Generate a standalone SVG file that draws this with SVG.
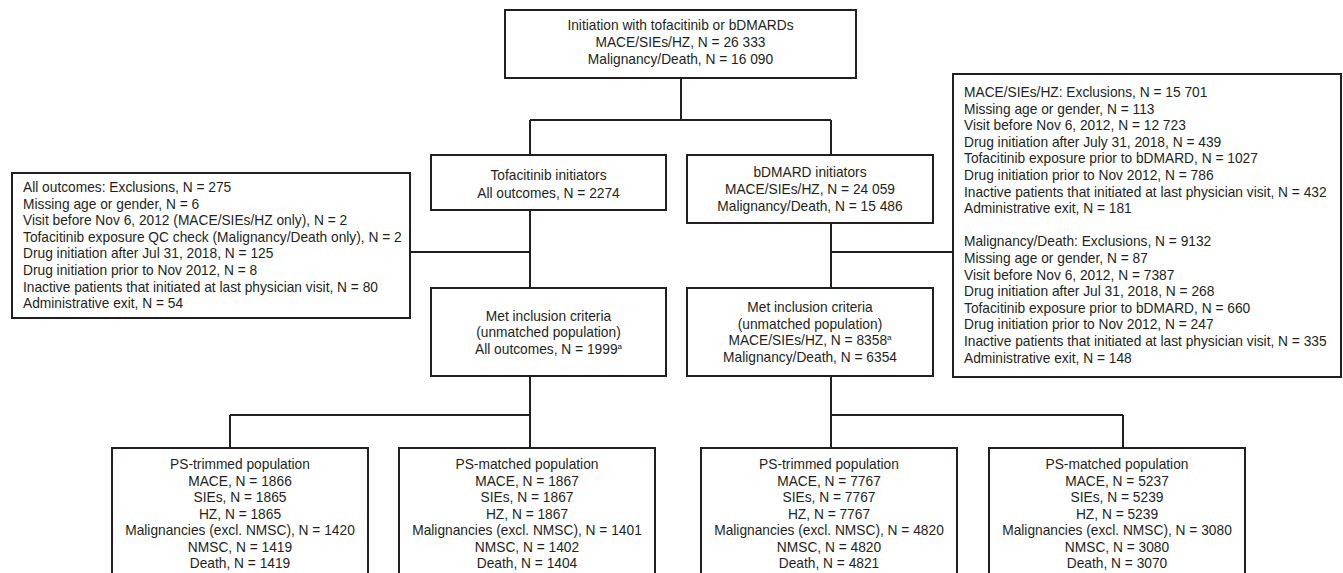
<svg xmlns="http://www.w3.org/2000/svg" width="1343" height="573" viewBox="0 0 1343 573">
<style>
.box{fill:#fff;stroke:#231f20;stroke-width:2}
.c{fill:none;stroke:#231f20;stroke-width:2}
text{font-family:"Liberation Sans",Arial,sans-serif;font-size:13.75px;fill:#231f20}
.m{text-anchor:middle}
.sup{font-size:8px}
</style>
<rect width="1343" height="573" fill="#fff"/>
<g id="connectors">
<path class="c" d="M681,78V120M530,120H831M530,120V155M831,120V155"/>
<path class="c" d="M530,210V288M410,252H530"/>
<path class="c" d="M831,223V288M831,252H953"/>
<path class="c" d="M530,376V448M230,415H530M230,415V448"/>
<path class="c" d="M831,376V448M831,415H1123M1123,415V448"/>
</g>
<g id="start">
<rect class="box" x="505" y="10" width="351" height="68"/>
<text class="m" x="680.5" y="30">Initiation with tofacitinib or bDMARDs</text>
<text class="m" x="680.5" y="47">MACE/SIEs/HZ, N = 26 333</text>
<text class="m" x="680.5" y="64">Malignancy/Death, N = 16 090</text>
</g>
<g id="tofa-init">
<rect class="box" x="431" y="155" width="235" height="55"/>
<text class="m" x="548.5" y="180">Tofacitinib initiators</text>
<text class="m" x="548.5" y="198">All outcomes, N = 2274</text>
</g>
<g id="bdmard-init">
<rect class="box" x="687" y="155" width="246" height="68"/>
<text class="m" x="810" y="177">bDMARD initiators</text>
<text class="m" x="810" y="194">MACE/SIEs/HZ, N = 24 059</text>
<text class="m" x="810" y="211">Malignancy/Death, N = 15 486</text>
</g>
<g id="tofa-excl">
<rect class="box" x="12" y="173" width="398" height="145"/>
<text x="23" y="192">All outcomes: Exclusions, N = 275</text>
<text x="23" y="208.6">Missing age or gender, N = 6</text>
<text x="23" y="225.2">Visit before Nov 6, 2012 (MACE/SIEs/HZ only), N = 2</text>
<text x="23" y="241.8">Tofacitinib exposure QC check (Malignancy/Death only), N = 2</text>
<text x="23" y="258.4">Drug initiation after Jul 31, 2018, N = 125</text>
<text x="23" y="275">Drug initiation prior to Nov 2012, N = 8</text>
<text x="23" y="291.6">Inactive patients that initiated at last physician visit, N = 80</text>
<text x="23" y="308.2">Administrative exit, N = 54</text>
</g>
<g id="bdmard-excl">
<rect class="box" x="953" y="74" width="388" height="303"/>
<text x="964" y="97">MACE/SIEs/HZ: Exclusions, N = 15 701</text>
<text x="964" y="113.6">Missing age or gender, N = 113</text>
<text x="964" y="130.2">Visit before Nov 6, 2012, N = 12 723</text>
<text x="964" y="146.8">Drug initiation after July 31, 2018, N = 439</text>
<text x="964" y="163.4">Tofacitinib exposure prior to bDMARD, N = 1027</text>
<text x="964" y="180">Drug initiation prior to Nov 2012, N = 786</text>
<text x="964" y="196.6">Inactive patients that initiated at last physician visit, N = 432</text>
<text x="964" y="213.2">Administrative exit, N = 181</text>
<text x="964" y="246.4">Malignancy/Death: Exclusions, N = 9132</text>
<text x="964" y="263">Missing age or gender, N = 87</text>
<text x="964" y="279.6">Visit before Nov 6, 2012, N = 7387</text>
<text x="964" y="296.2">Drug initiation after Jul 31, 2018, N = 268</text>
<text x="964" y="312.8">Tofacitinib exposure prior to bDMARD, N = 660</text>
<text x="964" y="329.4">Drug initiation prior to Nov 2012, N = 247</text>
<text x="964" y="346">Inactive patients that initiated at last physician visit, N = 335</text>
<text x="964" y="362.6">Administrative exit, N = 148</text>
</g>
<g id="tofa-met">
<rect class="box" x="431" y="288" width="235" height="88"/>
<text class="m" x="548.5" y="320.5">Met inclusion criteria</text>
<text class="m" x="548.5" y="337">(unmatched population)</text>
<text class="m" x="548.5" y="353.5">All outcomes, N = 1999<tspan class="sup" dy="-5">a</tspan></text>
</g>
<g id="bdmard-met">
<rect class="box" x="687" y="288" width="246" height="88"/>
<text class="m" x="810" y="312">Met inclusion criteria</text>
<text class="m" x="810" y="328.5">(unmatched population)</text>
<text class="m" x="810" y="345">MACE/SIEs/HZ, N = 8358<tspan class="sup" dy="-5">a</tspan></text>
<text class="m" x="810" y="361.5">Malignancy/Death, N = 6354</text>
</g>
<g id="tofa-trim">
<rect class="box" x="112" y="448" width="256" height="140"/>
<text class="m" x="240" y="469">PS-trimmed population</text>
<text class="m" x="240" y="485.5">MACE, N = 1866</text>
<text class="m" x="240" y="502">SIEs, N = 1865</text>
<text class="m" x="240" y="518.5">HZ, N = 1865</text>
<text class="m" x="240" y="535">Malignancies (excl. NMSC), N = 1420</text>
<text class="m" x="240" y="551.5">NMSC, N = 1419</text>
<text class="m" x="240" y="568">Death, N = 1419</text>
</g>
<g id="tofa-match">
<rect class="box" x="399" y="448" width="256" height="140"/>
<text class="m" x="527" y="469">PS-matched population</text>
<text class="m" x="527" y="485.5">MACE, N = 1867</text>
<text class="m" x="527" y="502">SIEs, N = 1867</text>
<text class="m" x="527" y="518.5">HZ, N = 1867</text>
<text class="m" x="527" y="535">Malignancies (excl. NMSC), N = 1401</text>
<text class="m" x="527" y="551.5">NMSC, N = 1402</text>
<text class="m" x="527" y="568">Death, N = 1404</text>
</g>
<g id="bdmard-trim">
<rect class="box" x="701" y="448" width="256" height="140"/>
<text class="m" x="829" y="469">PS-trimmed population</text>
<text class="m" x="829" y="485.5">MACE, N = 7767</text>
<text class="m" x="829" y="502">SIEs, N = 7767</text>
<text class="m" x="829" y="518.5">HZ, N = 7767</text>
<text class="m" x="829" y="535">Malignancies (excl. NMSC), N = 4820</text>
<text class="m" x="829" y="551.5">NMSC, N = 4820</text>
<text class="m" x="829" y="568">Death, N = 4821</text>
</g>
<g id="bdmard-match">
<rect class="box" x="989" y="448" width="256" height="140"/>
<text class="m" x="1117" y="469">PS-matched population</text>
<text class="m" x="1117" y="485.5">MACE, N = 5237</text>
<text class="m" x="1117" y="502">SIEs, N = 5239</text>
<text class="m" x="1117" y="518.5">HZ, N = 5239</text>
<text class="m" x="1117" y="535">Malignancies (excl. NMSC), N = 3080</text>
<text class="m" x="1117" y="551.5">NMSC, N = 3080</text>
<text class="m" x="1117" y="568">Death, N = 3070</text>
</g>
</svg>
